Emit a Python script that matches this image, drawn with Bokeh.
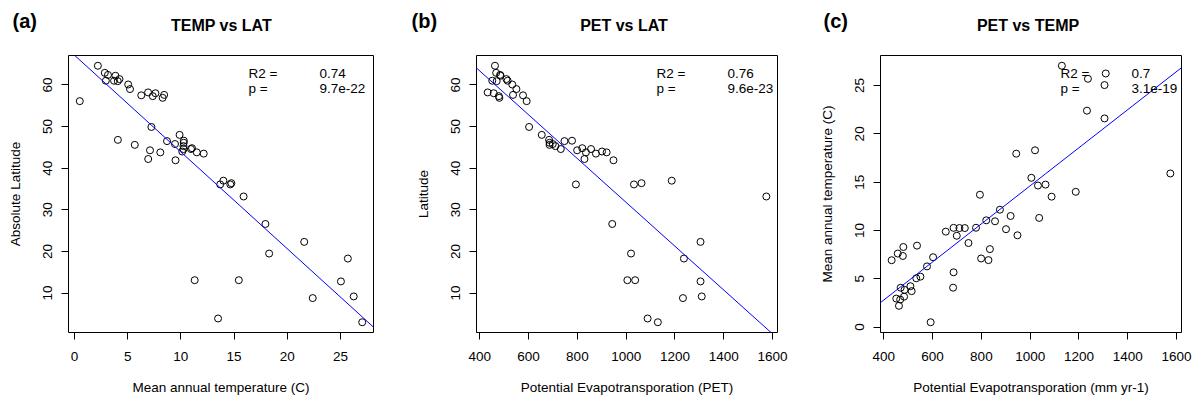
import numpy as np
from bokeh.plotting import figure
from bokeh.layouts import row, column
from bokeh.models import Slope, Label, FixedTicker, Range1d
from bokeh.embed import file_html
from bokeh.resources import INLINE

# per-site values (mean annual temperature, absolute latitude, PET)
temp = [0.5, 2.2, 2.85, 3.15, 2.95, 3.85, 3.72, 4.07, 4.23, 5.05, 5.22, 6.28, 6.92,
        7.36, 7.61, 8.29, 8.43, 4.08, 5.67, 7.23, 7.1, 6.93, 8.07, 8.7, 9.5, 9.45,
        9.88, 10.28, 10.27, 10.25, 10.25, 10.13, 11.05, 10.95, 11.5, 12.15, 13.7,
        14.0, 14.65, 14.75, 15.9, 17.95, 18.3, 21.6, 25.7, 25.05, 26.25, 22.4, 27.05,
        11.3, 15.45, 13.5]
lat = [56.1, 64.6, 62.9, 62.4, 61.0, 62.2, 61.0, 60.9, 61.4, 60.1, 59.0, 57.5, 58.2,
       57.3, 58.0, 56.9, 57.6, 46.8, 45.6, 49.9, 44.3, 42.2, 43.8, 46.5, 41.9, 45.8,
       48.0, 46.6, 46.1, 45.3, 44.6, 44.0, 44.8, 44.6, 43.8, 43.5, 36.1, 37.0, 36.1,
       36.4, 33.2, 26.6, 19.5, 22.3, 18.3, 12.8, 9.2, 8.8, 3.0, 13.1, 13.1, 3.9]
pet = [592, 462, 467, 483, 451, 485, 514, 469, 509, 533, 550, 577, 432, 478, 457, 480,
       536, 684, 686, 602, 799, 829, 835, 747, 948, 699, 654, 778, 686, 710, 732, 901,
       820, 856, 920, 876, 794, 1187, 1032, 1063, 1575, 943, 1020, 1305, 1237, 1305,
       1310, 1233, 1130, 1037, 1005, 1088]

titles = ["TEMP vs LAT", "PET vs LAT", "PET vs TEMP"]
tags = ["(a)", "(b)", "(c)"]
x_labels = ["Mean annual temperature (C)", "Potential Evapotransporation (PET)",
            "Potential Evapotransporation (mm yr-1)"]
y_labels = ["Absolute Latitude", "Latitude", "Mean annual temperature (C)"]
r2_values = ["0.74", "0.76", "0.7"]
p_values = ["9.7e-22", "9.6e-23", "3.1e-19"]
x_ticks = [[0, 5, 10, 15, 20, 25], [400, 600, 800, 1000, 1200, 1400, 1600],
           [400, 600, 800, 1000, 1200, 1400, 1600]]
y_ticks = [[10, 20, 30, 40, 50, 60], [10, 20, 30, 40, 50, 60], [0, 5, 10, 15, 20, 25]]

FONT = "Liberation Sans"
HEADER_H = 40
FRAME_W, FRAME_H = 305, 278
LEFT = [68, 60, 60]
WIDTHS = [412, 404, 383]
TITLE_X = [221, 623.5, 1027.5]
TAG_X = [12, 411, 823]


def rrange(v):
    lo, hi = min(v), max(v)
    s = (hi - lo) * 0.04
    return lo - s, hi + s


def panel(x, y, i):
    xr, yr = rrange(x), rrange(y)
    width = WIDTHS[i]
    top = 55 - HEADER_H
    bottom = 64
    p = figure(width=width, height=top + FRAME_H + bottom,
               x_range=Range1d(*xr), y_range=Range1d(*yr),
               output_backend="svg", toolbar_location=None,
               min_border_left=LEFT[i], min_border_right=width - LEFT[i] - FRAME_W,
               min_border_top=top, min_border_bottom=bottom)
    p.background_fill_color = "white"
    p.border_fill_color = "white"
    p.outline_line_color = "black"
    p.outline_line_width = 1
    p.xgrid.visible = False
    p.ygrid.visible = False

    p.scatter(x, y, marker="circle", size=7, fill_color=None,
              line_color="black", line_width=1)
    m, b = np.polyfit(x, y, 1)
    p.add_layout(Slope(gradient=float(m), y_intercept=float(b),
                       line_color="blue", line_width=1))

    for ax, ticks in ((p.xaxis[0], x_ticks[i]), (p.yaxis[0], y_ticks[i])):
        ax.ticker = FixedTicker(ticks=ticks)
        ax.axis_line_color = None
        ax.major_tick_line_color = "black"
        ax.major_tick_out = 7
        ax.major_tick_in = 0
        ax.minor_tick_line_color = None
        ax.major_label_text_font = FONT
        ax.major_label_text_font_size = "13.5px"
        ax.major_label_text_color = "black"
        ax.axis_label_text_font = FONT
        ax.axis_label_text_font_size = "13.5px"
        ax.axis_label_text_font_style = "normal"
        ax.axis_label_text_color = "black"
    p.xaxis.axis_label = x_labels[i]
    p.yaxis.axis_label = y_labels[i]
    p.xaxis.major_label_standoff = 12
    p.xaxis.axis_label_standoff = 16
    p.yaxis.major_label_orientation = "vertical"
    p.yaxis.major_label_standoff = 9
    p.yaxis.axis_label_standoff = 18

    for txt, xx, yy in (("R2 =", 180, 259), (r2_values[i], 251, 259),
                        ("p =", 180, 244), (p_values[i], 251, 244)):
        p.add_layout(Label(x=xx, y=yy, x_units="screen", y_units="screen",
                           text=txt, text_align="left", text_baseline="middle",
                           text_font=FONT, text_font_size="13.5px", text_color="black"))
    return p


header = figure(width=sum(WIDTHS), height=HEADER_H, x_range=Range1d(0, sum(WIDTHS)),
                y_range=Range1d(HEADER_H, 0), x_axis_type=None, y_axis_type=None,
                output_backend="svg", toolbar_location=None,
                min_border=0, min_border_left=0, min_border_right=0,
                min_border_top=0, min_border_bottom=0)
header.outline_line_color = None
header.xgrid.visible = False
header.ygrid.visible = False
header.background_fill_color = "white"
header.border_fill_color = "white"
for i in range(3):
    header.add_layout(Label(x=TITLE_X[i], y=24.5, text=titles[i], text_align="center",
                            text_baseline="middle", text_font=FONT,
                            text_font_size="16px", text_font_style="bold",
                            text_color="black"))
    header.add_layout(Label(x=TAG_X[i], y=20, text=tags[i], text_align="left",
                            text_baseline="middle", text_font=FONT,
                            text_font_size="20px", text_font_style="bold",
                            text_color="black"))

pa = panel(temp, lat, 0)
pb = panel(pet, lat, 1)
pc = panel(pet, temp, 2)

layout = column(header, row(pa, pb, pc))
open("out.html", "w").write(file_html(layout, INLINE))
